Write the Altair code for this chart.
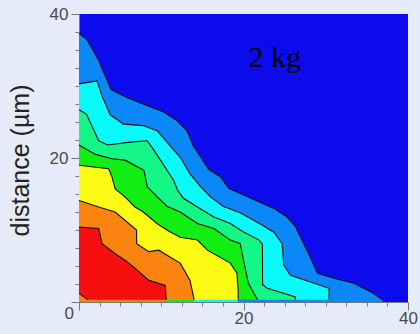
import altair as alt
import pandas as pd

# ---- contour boundaries (x, y in µm), from outermost to innermost ----
B1_X = [0, 1.0, 2.4, 3.9, 5.8, 7.8, 10.3, 11.9, 13.1, 13.9, 15.2, 15.8, 17.2, 18.2, 20.9, 23.7, 25.3, 26.3, 28.0, 29.0, 31.0, 33.4, 35.5, 36.9]
B1_Y = [37.3, 36.4, 33.5, 29.5, 28.4, 27.5, 26.4, 25.2, 23.8, 21.7, 19.4, 18.4, 17.4, 15.8, 14.4, 13.0, 11.8, 10.5, 6.5, 4.0, 3.3, 2.6, 1.4, 0.3]

B2_X = [0, 2.2, 2.8, 3.8, 5.4, 7.8, 9.5, 10.7, 12.3, 13.5, 14.8, 16.0, 17.5, 19.6, 22.1, 23.7, 24.7, 24.9, 25.7, 28.6, 30.4, 30.41]
B2_Y = [30.3, 30.7, 28.6, 26.0, 24.7, 24.5, 23.8, 22.2, 20.1, 17.8, 16.0, 14.6, 13.3, 12.4, 10.8, 9.7, 8.1, 5.1, 3.7, 2.6, 1.9, 0.3]

B3_X = [0, 0.9, 2.4, 3.5, 6.2, 8.3, 9.1, 9.9, 10.7, 11.5, 12.0, 12.7, 14.4, 16.4, 18.4, 19.9, 21.9, 22.3, 22.31, 22.32, 22.9, 26.3, 26.31]
B3_Y = [26.7, 26.1, 22.4, 21.8, 22.2, 22.4, 21.1, 19.7, 18.3, 16.9, 15.5, 14.4, 13.2, 11.8, 10.9, 9.8, 8.6, 8.0, 5.1, 2.4, 1.9, 0.7, 0.3]

B4_X = [0, 2.0, 4.0, 5.6, 7.9, 8.3, 9.6, 10.7, 12.3, 14.4, 16.4, 18.4, 19.6, 20.0, 20.6, 21.7]
B4_Y = [21.8, 20.5, 19.9, 19.7, 18.3, 16.0, 14.5, 13.3, 12.5, 10.9, 10.2, 8.6, 8.1, 5.8, 2.6, 0.3]

B5_X = [0, 3.6, 4.0, 4.4, 5.6, 6.8, 7.7, 9.6, 11.0, 12.3, 14.4, 15.6, 18.4, 19.2, 19.35, 19.36]
B5_Y = [19.0, 18.5, 17.4, 15.7, 14.6, 13.2, 12.6, 10.8, 9.8, 9.0, 8.6, 7.2, 5.4, 4.0, 1.7, 0.3]

B6_X = [0, 2.4, 4.4, 7.0, 7.01, 8.5, 9.7, 10.7, 12.3, 13.5, 14.0]
B6_Y = [14.1, 13.2, 12.5, 10.0, 8.1, 7.0, 7.2, 6.5, 5.4, 3.0, 0.3]

B7_X = [0, 2.4, 2.8, 4.4, 5.6, 6.8, 8.5, 10.5, 10.6]
B7_Y = [10.4, 10.2, 8.1, 6.7, 5.8, 4.7, 3.0, 2.3, 0.3]

B8_X = [0, 1.1]
B8_Y = [1.2, 0.3]

# thin bottom row of the map
STRIP_X0 = [0, 10.6, 14.0, 19.3]
STRIP_X1 = [10.6, 14.0, 19.3, 30.4]
STRIP_TOP = [0.3, 0.3, 0.3, 0.3]

DARKBLUE = "#0b0bee"
MEDBLUE = "#0c87f7"
CYAN = "#08fafa"
SPRING = "#12f786"
GREEN = "#11ee11"
YELLOW = "#fbfb13"
ORANGE = "#fb8410"
RED = "#f70f0f"

FILLS = [MEDBLUE, CYAN, SPRING, GREEN, YELLOW, ORANGE, RED, ORANGE]
STRIP_COLORS = [ORANGE, GREEN, CYAN, MEDBLUE]

LABEL_TEXT = ["2 kg"]
LABEL_X = [20.6]
LABEL_Y = [32.6]

TICKS = [i * 2.5 for i in range(17)]

bounds = [(B1_X, B1_Y), (B2_X, B2_Y), (B3_X, B3_Y), (B4_X, B4_Y),
          (B5_X, B5_Y), (B6_X, B6_Y), (B7_X, B7_Y), (B8_X, B8_Y)]
rows = []
for k, (xs, ys) in enumerate(bounds):
    for i, (xx, yy) in enumerate(zip(xs, ys)):
        rows.append({"level": k, "x": xx, "y": yy, "base": 0.0, "i": i})
df = pd.DataFrame(rows)

strip_df = pd.DataFrame({"x": STRIP_X0, "x1": STRIP_X1, "y": STRIP_TOP,
                         "base": [0.0] * len(STRIP_X0), "c": STRIP_COLORS})
label_df = pd.DataFrame({"x": LABEL_X, "y": LABEL_Y, "t": LABEL_TEXT})
zero_df = pd.DataFrame({"x": [0], "y": [0], "t": ["0"]})

xscale = alt.Scale(domain=[0, 40], nice=False, zero=False)
yscale = alt.Scale(domain=[0, 40], nice=False, zero=False)

FONT = "Liberation Sans"
LABEL_COLOR = "#4a4a4a"
tick_size = {"condition": {"test": "datum.value % 20 === 0", "value": 8}, "value": 4}

xaxis = alt.Axis(values=TICKS, title=None, grid=False, domainColor="#777777",
                 tickColor="#777777", tickSize=tick_size,
                 labelExpr="datum.value === 20 || datum.value === 40 ? datum.label : ''",
                 labelOverlap=False, labelFlush=False, labelFont=FONT, labelFontSize=17,
                 labelColor=LABEL_COLOR, labelPadding=0)
yaxis = alt.Axis(values=TICKS, title="distance (µm)", grid=False, domainColor="#777777",
                 tickColor="#777777", tickSize=tick_size,
                 labelExpr="datum.value === 20 || datum.value === 40 ? datum.label : ''",
                 labelOverlap=False, labelFlush=False, labelFont=FONT, labelFontSize=17,
                 labelColor=LABEL_COLOR, labelPadding=3,
                 titleFont=FONT, titleFontSize=25, titleFontWeight="normal",
                 titleColor="#222222", titleAngle=270, titleX=-51, titleY=146,
                 titleAlign="center", titleBaseline="alphabetic")

X = alt.X("x:Q", scale=xscale, axis=xaxis)
Y = alt.Y("y:Q", scale=yscale, axis=yaxis, stack=None)

layers = []
for k in range(len(bounds)):
    layers.append(
        alt.Chart(df).transform_filter(alt.datum.level == k)
        .mark_area(color=FILLS[k], interpolate="linear")
        .encode(x=X, y=Y, y2="base:Q")
    )

strip = alt.Chart(strip_df).mark_rect().encode(
    x=X, x2="x1:Q", y=Y, y2="base:Q",
    color=alt.Color("c:N", scale=None),
)

lines = alt.Chart(df).mark_line(color="#111111", strokeWidth=1.1).encode(
    x=X, y=Y, detail="level:N", order=alt.Order("i:Q"),
)

label = alt.Chart(label_df).mark_text(font="Liberation Serif", fontSize=30, align="left",
                                      baseline="alphabetic", color="#000000").encode(
    x=X, y=Y, text="t:N",
)

zero = alt.Chart(zero_df).mark_text(font=FONT, fontSize=17, align="right", baseline="top",
                                    dx=-5, dy=4, color=LABEL_COLOR).encode(
    x=X, y=Y, text="t:N",
)

chart = alt.layer(*layers, strip, lines, label, zero).properties(
    width=329, height=288,
    autosize=alt.AutoSizeParams(type="none"),
    padding={"left": 79, "top": 14, "right": 12, "bottom": 32},
    background="#e6ecf7",
).configure_view(fill=DARKBLUE, stroke=None)

chart.save("out.html", embed_options={"renderer": "svg", "actions": False})
